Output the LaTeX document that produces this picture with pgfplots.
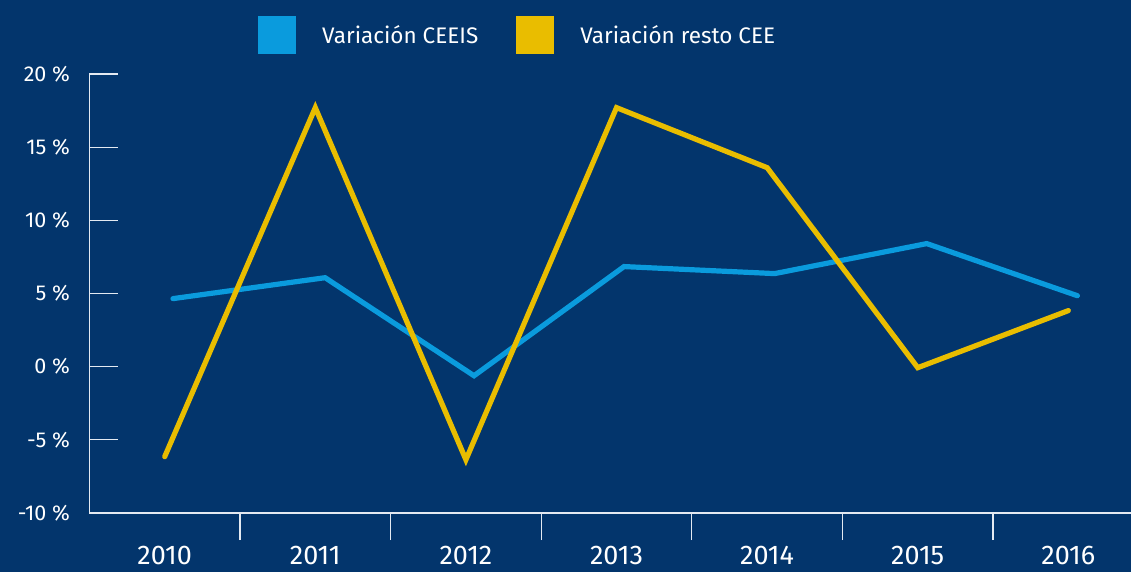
\documentclass[border=0pt]{standalone}
\usepackage{fontspec}
\setmainfont{Fira Sans}
\usepackage{pgfplots}
\pgfplotsset{compat=1.18}
\definecolor{bgblue}{HTML}{03356C}
\definecolor{ceeis}{HTML}{0A9BDD}
\definecolor{resto}{HTML}{E9BD00}
\definecolor{axiscol}{HTML}{E4EAF2}

\begin{document}
\begin{tikzpicture}
\fill[bgblue] (0,0) rectangle (1131bp,572bp);
\clip (0,0) rectangle (1131bp,572bp);
\begin{axis}[
  at={(89.4bp,59bp)}, anchor=south west,
  scale only axis,
  width=1041.6bp, height=439bp,
  xmin=-0.5, xmax=6.416,
  ymin=-10, ymax=20,
  axis x line*=bottom, axis y line*=left,
  axis line style={axiscol, line width=1.3bp},
  xtick={0,...,6},
  xticklabels={2010,2011,2012,2013,2014,2015,2016},
  xtick style={draw=none},
  extra x ticks={0.5,1.5,2.5,3.5,4.5,5.5},
  extra x tick labels={},
  extra x tick style={tick align=outside, major tick length=27bp,
    xtick style={draw=axiscol, line width=1.3bp}},
  ytick={-10,-5,0,5,10,15,20},
  yticklabels={-10 \%,-5 \%,0 \%,5 \%,10 \%,15 \%,20 \%},
  tick align=inside, major tick length=29bp,
  ytick style={axiscol, line width=1.3bp},
  tick label style={text=white},
  xticklabel style={font=\fontsize{27bp}{32bp}\selectfont, anchor=north, yshift=-30bp},
  yticklabel style={font=\fontsize{21.5bp}{26bp}\selectfont, anchor=east, xshift=-16bp},
  legend columns=2,
  legend style={at={(0.1619,1.132)}, anchor=north west, draw=none, fill=none,
    inner sep=0pt, text=white, font=\fontsize{22.5bp}{27bp}\selectfont,
    /tikz/every even column/.append style={column sep=36bp}},
  legend image code/.code={\fill[#1, draw=none] (0bp,-19bp) rectangle (38bp,19bp);},
  legend cell align=left,
]
\addplot[ceeis, line width=5.2bp, line cap=round] coordinates {
  (0.055,4.65) (1.065,6.08) (2.054,-0.62) (3.05,6.84) (4.05,6.36) (5.06,8.41) (6.06,4.85)
};
\addlegendentry{\hspace{24bp}Variación CEEIS}
\addplot[resto, line width=5.2bp, line cap=round] coordinates {
  (0,-6.15) (1,17.7) (2,-6.36) (3,17.7) (4,13.6) (5,-0.07) (6,3.83)
};
\addlegendentry{\hspace{24bp}Variación resto CEE}
\end{axis}
\end{tikzpicture}
\end{document}
